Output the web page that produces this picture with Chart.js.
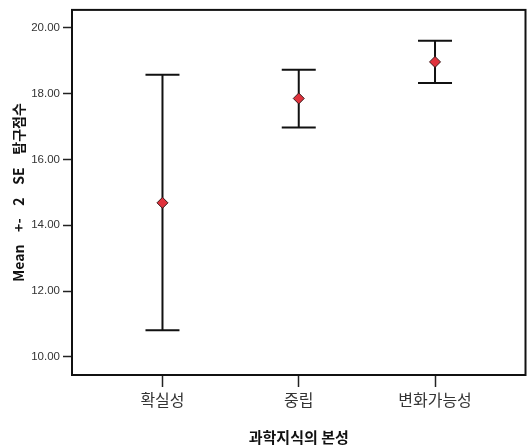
<!DOCTYPE html>
<html>
<head>
<meta charset="utf-8">
<script src="https://cdn.jsdelivr.net/npm/chart.js@4/dist/chart.umd.min.js"></script>
<style>
  html, body { margin: 0; padding: 0; background: #ffffff; }
  #wrap { width: 532px; height: 447px; }
</style>
</head>
<body>
<div id="wrap"><canvas id="c" width="532" height="447"></canvas></div>
<script>
// Groups of the nature of scientific knowledge
const categories = ['확실성', '중립', '변화가능성'];
// Mean inquiry score per group and its ±2 SE interval
const means = [14.68, 17.85, 18.96];
const lowerBounds = [10.81, 16.97, 18.32];
const upperBounds = [18.57, 18.72, 19.60];
// Value axis tick labels
const yTicks = [10, 12, 14, 16, 18, 20];

const FONT = "'Liberation Sans', Arial, 'Noto Sans CJK KR', sans-serif";
const KFONT = "'Noto Sans CJK KR', 'Liberation Sans', sans-serif";

// Whisker lines with end caps, placed through the chart scales
const errorBars = {
  id: 'errorBars',
  beforeDatasetsDraw(chart) {
    const { ctx, scales: { x, y } } = chart;
    const cap = 17;
    ctx.save();
    ctx.strokeStyle = '#111111';
    ctx.lineWidth = 2;
    categories.forEach((_, i) => {
      const px = x.getPixelForValue(i + 1);
      const top = y.getPixelForValue(upperBounds[i]);
      const bot = y.getPixelForValue(lowerBounds[i]);
      ctx.beginPath();
      ctx.moveTo(px, top); ctx.lineTo(px, bot);
      ctx.moveTo(px - cap, top); ctx.lineTo(px + cap, top);
      ctx.moveTo(px - cap, bot); ctx.lineTo(px + cap, bot);
      ctx.stroke();
    });
    ctx.restore();
  }
};

// Box around the plotting area
const frame = {
  id: 'frame',
  afterDatasetsDraw(chart) {
    const { ctx, chartArea: a } = chart;
    ctx.save();
    ctx.strokeStyle = '#111111';
    ctx.lineWidth = 2;
    ctx.strokeRect(a.left, a.top, a.right - a.left, a.bottom - a.top);
    ctx.restore();
  }
};

new Chart(document.getElementById('c'), {
  type: 'scatter',
  data: {
    datasets: [{
      data: means.map((m, i) => ({ x: i + 1, y: m })),
      pointStyle: 'rectRot',
      pointRadius: 5.5,
      pointHoverRadius: 5.5,
      backgroundColor: '#e0323c',
      borderColor: '#3a1a1a',
      borderWidth: 1
    }]
  },
  options: {
    responsive: false,
    animation: false,
    events: [],
    layout: { padding: { top: 9, right: 4, left: 0, bottom: 0 } },
    plugins: { legend: { display: false }, tooltip: { enabled: false } },
    scales: {
      x: {
        type: 'linear',
        min: 1 - 0.664,
        max: 3 + 0.664,
        afterFit(s) { s.height = 72; },
        afterBuildTicks(s) { s.ticks = categories.map((_, i) => ({ value: i + 1 })); },
        border: { display: false },
        grid: { drawOnChartArea: false, tickLength: 12, tickColor: '#222222', tickWidth: 1.5 },
        ticks: {
          padding: 3,
          color: '#333333',
          font: { family: KFONT, size: 16 },
          callback: (v) => categories[Math.round(v) - 1]
        },
        title: {
          display: true,
          text: '과학지식의 본성',
          color: '#111111',
          font: { family: KFONT, size: 15, weight: 'bold' },
          padding: { top: 0, bottom: 1 }
        }
      },
      y: {
        min: 9.45,
        max: 20.54,
        afterFit(s) { s.width = 72; },
        afterBuildTicks(s) { s.ticks = yTicks.map(v => ({ value: v })); },
        border: { display: false },
        grid: { drawOnChartArea: false, tickLength: 9, tickColor: '#222222', tickWidth: 1.5 },
        ticks: {
          padding: 3,
          color: '#333333',
          font: { family: FONT, size: 11.5 },
          callback: (v) => Number(v).toFixed(2)
        },
        title: {
          display: true,
          text: 'Mean    +-    2    SE    탐구점수',
          color: '#111111',
          font: { family: KFONT, size: 14, weight: 'bold' },
          padding: { top: 10, bottom: 0 }
        }
      }
    }
  },
  plugins: [errorBars, frame]
});
</script>
</body>
</html>
